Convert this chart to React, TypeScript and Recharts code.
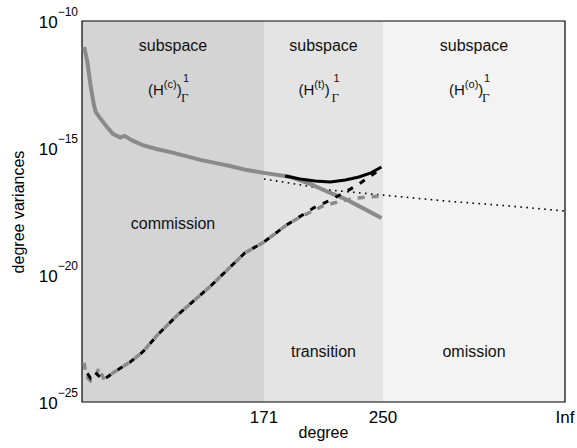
import React from 'react';
import { LineChart, Line, XAxis, YAxis, ReferenceArea } from 'recharts';

const FONT = '"Liberation Sans", Arial, Helvetica, sans-serif';

// degree where the "Inf" tick sits on the stretched omission part
const INF_DEG = 500;

// signal degree variances (grey solid)
const SIGNAL_DEG = [2, 5, 8, 11, 13, 17, 22, 29, 36, 40, 47, 57, 70, 83, 97, 111, 125, 139, 155, 171, 188, 202, 215, 225, 235, 249];
const SIGNAL_VAL = [
  9.5e-12, 2.5e-12, 3.0e-13, 5.4e-14, 2.6e-14, 1.5e-14, 8.0e-15, 3.6e-15, 2.6e-15, 3.0e-15, 2.0e-15,
  1.3e-15, 9.1e-16, 6.9e-16, 4.9e-16, 3.4e-16, 2.6e-16, 1.95e-16, 1.35e-16, 1.05e-16, 7.4e-17, 3.8e-17,
  1.7e-17, 9.8e-18, 4.8e-18, 1.74e-18,
];

// total degree variances (black solid)
const TOTAL_DEG = [185, 195, 205, 215, 225, 234, 242, 249];
const TOTAL_VAL = [7.9e-17, 6.0e-17, 5.0e-17, 4.6e-17, 5.5e-17, 7.2e-17, 1.05e-16, 1.78e-16];

// error degree variances (black dashed)
const ERR_DEG = [2, 3, 8, 12, 16, 20, 29, 45, 57, 71, 90, 120, 153, 171, 186, 204, 215, 225, 233, 242, 249];
const ERR_VAL = [
  1.38e-24, 1.8e-24, 8.7e-25, 1.5e-24, 1.05e-24, 7.4e-25, 1.38e-24, 3.7e-24, 9.3e-24, 4.4e-23, 2.7e-22,
  3.4e-21, 7.4e-20, 2.0e-19, 9.3e-19, 4.4e-18, 8.9e-18, 1.86e-17, 3.5e-17, 7.9e-17, 1.62e-16,
];

// estimated error degree variances (grey dashed)
const EST_DEG = [2, 4, 8, 12, 16, 20, 29, 45, 57, 71, 90, 120, 153, 171, 186, 195, 210, 222, 232, 249];
const EST_VAL = [
  3.5e-24, 1.05e-24, 6.8e-25, 8.7e-25, 2.2e-24, 8.7e-25, 1.38e-24, 3.7e-24, 9.3e-24, 4.4e-23, 2.7e-22,
  3.4e-21, 7.4e-20, 2.0e-19, 9.3e-19, 1.9e-18, 5.2e-18, 8.1e-18, 1.07e-17, 1.29e-17,
];

// model degree variances (black dotted), runs on to Inf
const MODEL_DEG = [171, 188, 215, 250, 338, 424, INF_DEG];
const MODEL_VAL = [6.0e-17, 4.2e-17, 2.2e-17, 1.4e-17, 8.1e-18, 5.2e-18, 3.3e-18];

const Y_TICKS = [1e-25, 1e-20, 1e-15, 1e-10];
const X_TICK_DEG = [171, 250, INF_DEG];
const X_TICK_LABELS = ['171', '250', 'Inf'];

const REGIONS = [
  { from: 0, to: 171, fill: '#d4d4d4', sup: 'c', name: 'commission', nameY: 229 },
  { from: 171, to: 250, fill: '#e4e4e4', sup: 't', name: 'transition', nameY: 357 },
  { from: 250, to: INF_DEG, fill: '#f3f3f3', sup: 'o', name: 'omission', nameY: 357 },
];

// piecewise degree axis: commission, transition and omission get their own stretch
const axisPos = (deg: number) => {
  if (deg <= 171) return (deg * 182) / 171;
  if (deg <= 250) return 182 + ((deg - 171) * 119) / 79;
  return 301 + ((deg - 250) * 182) / (INF_DEG - 250);
};

const toPoints = (deg: number[], val: number[]) => deg.map((d, i) => ({ x: axisPos(d), y: val[i] }));

const signal = toPoints(SIGNAL_DEG, SIGNAL_VAL);
const total = toPoints(TOTAL_DEG, TOTAL_VAL);
const err = toPoints(ERR_DEG, ERR_VAL);
const est = toPoints(EST_DEG, EST_VAL);
const model = toPoints(MODEL_DEG, MODEL_VAL);

const YTick = ({ y, payload }: any) => {
  const exp = Math.round(Math.log10(payload.value));
  return (
    <text x={78} y={y + 7} textAnchor="end" fontFamily={FONT} fontSize={17} fill="#000">
      10
      <tspan dy={-12} fontSize={12}>
        {'\u2212' + Math.abs(exp)}
      </tspan>
    </text>
  );
};

const XTick = ({ x, payload }: any) => {
  const i = X_TICK_DEG.findIndex((d) => Math.abs(axisPos(d) - payload.value) < 0.01);
  return (
    <text x={x} y={423} textAnchor="middle" fontFamily={FONT} fontSize={17} fill="#000">
      {X_TICK_LABELS[i]}
    </text>
  );
};

const RegionLabel = ({ viewBox, sup, name, nameY }: any) => {
  const cx = viewBox.x + viewBox.width / 2;
  return (
    <g fontFamily={FONT}>
      <text x={cx} y={51} textAnchor="middle" fontSize={16} fill="#111">
        subspace
      </text>
      <text x={cx - 25} y={95} fontSize={15} fill="#111">
        (H
        <tspan dy={-7} fontSize={11}>
          ({sup})
        </tspan>
        <tspan dy={7}>)</tspan>
      </text>
      <text x={cx + 10} y={82} fontSize={11} fill="#111">
        1
      </text>
      <text x={cx + 8} y={102} fontSize={13} fontFamily="'Liberation Serif', serif" fill="#111">
        Γ
      </text>
      <text x={cx} y={nameY} textAnchor="middle" fontSize={16} fill="#111">
        {name}
      </text>
    </g>
  );
};

const XTitle = ({ viewBox }: any) => (
  <text x={viewBox.x + viewBox.width / 2} y={438} textAnchor="middle" fontFamily={FONT} fontSize={16} fill="#000">
    degree
  </text>
);

const YTitle = () => (
  <text x={24} y={212} transform="rotate(-90, 24, 212)" textAnchor="middle" fontFamily={FONT} fontSize={16} fill="#000">
    degree variances
  </text>
);

export default function App() {
  const xMax = axisPos(INF_DEG);
  return (
    <div style={{ position: 'absolute', left: 0, top: 0, background: '#fff' }}>
      <LineChart width={577} height={448} margin={{ top: 21, right: 12, bottom: 0, left: 0 }}>
        <XAxis
          type="number"
          dataKey="x"
          domain={[0, xMax]}
          ticks={X_TICK_DEG.map(axisPos)}
          tick={<XTick />}
          tickLine={false}
          axisLine={false}
          height={46}
          label={<XTitle />}
        />
        <YAxis
          type="number"
          dataKey="y"
          scale="log"
          domain={[1e-25, 1e-10]}
          allowDataOverflow
          ticks={Y_TICKS}
          tick={<YTick />}
          tickLine={false}
          axisLine={false}
          width={82}
          label={<YTitle />}
        />
        {REGIONS.map((r) => (
          <ReferenceArea
            key={r.name}
            x1={axisPos(r.from)}
            x2={axisPos(r.to)}
            y1={1e-25}
            y2={1e-10}
            fill={r.fill}
            fillOpacity={1}
            stroke="none"
            label={<RegionLabel sup={r.sup} name={r.name} nameY={r.nameY} />}
          />
        ))}
        <Line data={model} dataKey="y" stroke="#000" strokeWidth={1.6} strokeDasharray="1.6 4.4" dot={false} isAnimationActive={false} />
        <Line data={signal} dataKey="y" stroke="#8a8a8a" strokeWidth={4} dot={false} isAnimationActive={false} />
        <Line data={total} dataKey="y" stroke="#000" strokeWidth={3} dot={false} isAnimationActive={false} />
        <Line data={est} dataKey="y" stroke="#8a8a8a" strokeWidth={3.5} strokeDasharray="7 7" dot={false} isAnimationActive={false} />
        <Line data={err} dataKey="y" stroke="#000" strokeWidth={3} strokeDasharray="6 8" strokeDashoffset={7} dot={false} isAnimationActive={false} />
        <ReferenceArea x1={0} x2={xMax} y1={1e-25} y2={1e-10} fill="none" stroke="#000" strokeWidth={1.2} />
      </LineChart>
    </div>
  );
}
